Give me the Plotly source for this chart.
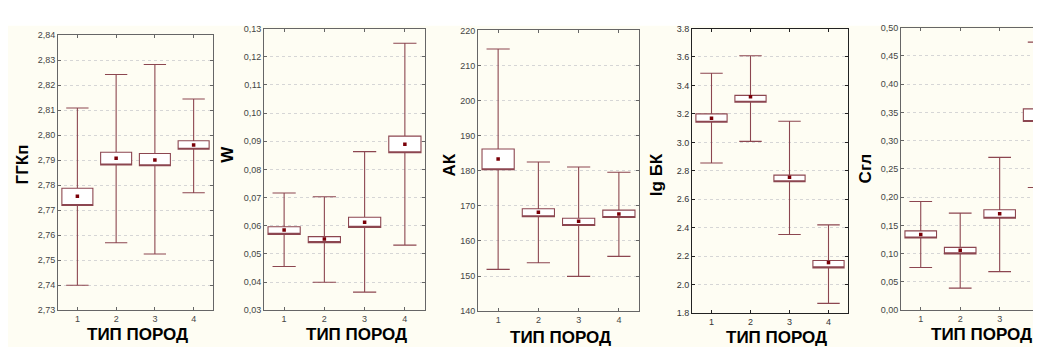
import plotly.graph_objects as go

# ---------------- data ----------------
categories = [1, 2, 3, 4]
x_title = "ТИП ПОРОД"

# Panel 1: ГГКп
ggk_mean = [2.7756, 2.7908, 2.7901, 2.7961]
ggk_box_lo = [2.7719, 2.7881, 2.7878, 2.7944]
ggk_box_hi = [2.7788, 2.7932, 2.7927, 2.7978]
ggk_whisk_lo = [2.7400, 2.7570, 2.7525, 2.7770]
ggk_whisk_hi = [2.8109, 2.8243, 2.8283, 2.8145]
ggk_tickvals = [2.73, 2.74, 2.75, 2.76, 2.77, 2.78, 2.79, 2.80, 2.81, 2.82, 2.83, 2.84]
ggk_ticktext = ["2,73", "2,74", "2,75", "2,76", "2,77", "2,78", "2,79", "2,80", "2,81", "2,82", "2,83", "2,84"]

# Panel 2: W
w_mean = [0.0585, 0.0553, 0.0612, 0.0889]
w_box_lo = [0.0569, 0.0540, 0.0594, 0.0859]
w_box_hi = [0.0596, 0.0561, 0.0630, 0.0918]
w_whisk_lo = [0.0455, 0.0399, 0.0364, 0.0531]
w_whisk_hi = [0.0716, 0.0703, 0.0863, 0.1248]
w_tickvals = [0.03, 0.04, 0.05, 0.06, 0.07, 0.08, 0.09, 0.10, 0.11, 0.12, 0.13]
w_ticktext = ["0,03", "0,04", "0,05", "0,06", "0,07", "0,08", "0,09", "0,10", "0,11", "0,12", "0,13"]

# Panel 3: АК
ak_mean = [183.4, 168.2, 165.6, 167.7]
ak_box_lo = [180.3, 166.9, 164.4, 166.7]
ak_box_hi = [186.2, 169.2, 166.5, 168.8]
ak_whisk_lo = [151.9, 153.8, 149.9, 155.6]
ak_whisk_hi = [214.7, 182.5, 181.1, 179.6]
ak_tickvals = [140, 150, 160, 170, 180, 190, 200, 210, 220]
ak_ticktext = ["140", "150", "160", "170", "180", "190", "200", "210", "220"]

# Panel 4: lg БК
bk_mean = [3.170, 3.320, 2.755, 2.155]
bk_box_lo = [3.141, 3.282, 2.723, 2.118]
bk_box_hi = [3.200, 3.330, 2.770, 2.170]
bk_whisk_lo = [2.855, 3.007, 2.352, 1.868]
bk_whisk_hi = [3.486, 3.609, 3.148, 2.420]
bk_tickvals = [1.8, 2.0, 2.2, 2.4, 2.6, 2.8, 3.0, 3.2, 3.4, 3.6, 3.8]
bk_ticktext = ["1.8", "2.0", "2.2", "2.4", "2.6", "2.8", "3.0", "3.2", "3.4", "3.6", "3.8"]

# Panel 5: Сгл
sgl_mean = [0.134, 0.106, 0.1707, 0.3465]
sgl_box_lo = [0.1277, 0.0997, 0.1626, 0.3339]
sgl_box_hi = [0.1403, 0.1111, 0.1776, 0.3562]
sgl_whisk_lo = [0.0756, 0.0390, 0.0682, 0.2171]
sgl_whisk_hi = [0.1924, 0.1718, 0.2703, 0.4742]
sgl_tickvals = [0.00, 0.05, 0.10, 0.15, 0.20, 0.25, 0.30, 0.35, 0.40, 0.45, 0.50]
sgl_ticktext = ["0,00", "0,05", "0,10", "0,15", "0,20", "0,25", "0,30", "0,35", "0,40", "0,45", "0,50"]

# ---------------- layout / styling ----------------
W, H = 1041, 347
BOX_COLOR = "#8c4650"
MEAN_COLOR = "#7a0008"
FONT = "Liberation Sans, Arial, sans-serif"

panels = [
    dict(name="ГГКп", mean=ggk_mean, lo=ggk_box_lo, hi=ggk_box_hi, wlo=ggk_whisk_lo, whi=ggk_whisk_hi,
         tv=ggk_tickvals, tt=ggk_ticktext, yr=[2.73, 2.84],
         px=(50, 205, 23, 306), xr=[0.5, 4.5], ytx=15, yty=156, xtx=129, xty=331, frame="#666666",
         tickfont=dict(size=9, color="#444444")),
    dict(name="W", mean=w_mean, lo=w_box_lo, hi=w_box_hi, wlo=w_whisk_lo, whi=w_whisk_hi,
         tv=w_tickvals, tt=w_ticktext, yr=[0.03, 0.13],
         px=(256, 417, 16, 306), xr=[0.5, 4.5], ytx=220, yty=146, xtx=348, xty=331, frame="#666666",
         tickfont=dict(size=9, color="#444444")),
    dict(name="АК", mean=ak_mean, lo=ak_box_lo, hi=ak_box_hi, wlo=ak_whisk_lo, whi=ak_whisk_hi,
         tv=ak_tickvals, tt=ak_ticktext, yr=[140, 220],
         px=(470, 631, 18, 307), xr=[0.5, 4.5], ytx=441, yty=157, xtx=552, xty=334, frame="#666666",
         tickfont=dict(size=9, color="#444444")),
    dict(name="lg БК", mean=bk_mean, lo=bk_box_lo, hi=bk_box_hi, wlo=bk_whisk_lo, whi=bk_whisk_hi,
         tv=bk_tickvals, tt=bk_ticktext, yr=[1.8, 3.8],
         px=(684, 840, 16, 309), xr=[0.5, 4.5], ytx=648, yty=167, xtx=768, xty=334, frame="#222222",
         tickfont=dict(size=9, color="#333333")),
    dict(name="Сгл", mean=sgl_mean, lo=sgl_box_lo, hi=sgl_box_hi, wlo=sgl_whisk_lo, whi=sgl_whisk_hi,
         tv=sgl_tickvals, tt=sgl_ticktext, yr=[0.0, 0.5],
         px=(893, 1041, 15, 306), xr=[0.5, 4.25], ytx=857, yty=160, xtx=973, xty=331, frame="#666666",
         tickfont=dict(size=9, color="#444444")),
]

fig = go.Figure()
layout = dict(
    width=W, height=H, autosize=False,
    margin=dict(l=0, r=0, t=0, b=0),
    paper_bgcolor="white", plot_bgcolor="white",
    showlegend=False, hovermode=False,
    font=dict(family=FONT),
)
annotations = []
shapes = [
    dict(type="rect", xref="paper", yref="paper", x0=0, x1=1, y0=0, y1=1 - 13 / H,
         fillcolor="#fefdf3", line=dict(width=0), layer="below"),
]

for i, p in enumerate(panels, start=1):
    xs = "" if i == 1 else str(i)
    xa, ya = "x" + xs, "y" + xs
    left, right, top, bottom = p["px"]

    fig.add_trace(go.Box(
        x=categories, q1=p["lo"], median=p["lo"], q3=p["hi"],
        lowerfence=p["wlo"], upperfence=p["whi"],
        width=0.8, whiskerwidth=0.72, fillcolor="white",
        line=dict(color=BOX_COLOR, width=1.1), boxpoints=False,
        xaxis=xa, yaxis=ya,
    ))
    fig.add_trace(go.Scatter(
        x=categories, y=p["mean"], mode="markers",
        marker=dict(symbol="square", size=3.5, color=MEAN_COLOR),
        xaxis=xa, yaxis=ya,
    ))

    layout["xaxis" + xs] = dict(
        domain=[left / W, right / W], range=p["xr"], anchor=ya,
        tickvals=categories, ticktext=[str(c) for c in categories],
        ticks="inside", ticklen=3, tickcolor=p["frame"],
        showline=True, linecolor=p["frame"], linewidth=1, mirror="ticks",
        showgrid=False, zeroline=False, tickfont=p["tickfont"],
    )
    layout["yaxis" + xs] = dict(
        domain=[1 - bottom / H, 1 - top / H], range=p["yr"], anchor=xa,
        tickvals=p["tv"], ticktext=p["tt"],
        ticks="inside", ticklen=3, tickcolor=p["frame"],
        showline=True, linecolor=p["frame"], linewidth=1,
        mirror=("ticks" if i < 5 else False),
        showgrid=True, gridcolor="#d6d6d6", griddash="dot", gridwidth=1,
        zeroline=False, tickfont=p["tickfont"],
    )
    annotations.append(dict(
        text="<b>" + p["name"] + "</b>", xref="paper", yref="paper",
        x=p["ytx"] / W, y=1 - p["yty"] / H, textangle=-90, showarrow=False,
        font=dict(size=17, color="black", family=FONT), xanchor="center", yanchor="middle",
    ))
    annotations.append(dict(
        text="<b>" + x_title + "</b>", xref="paper", yref="paper",
        x=p["xtx"] / W, y=1 - p["xty"] / H, showarrow=False,
        font=dict(size=17, color="black", family=FONT), xanchor="center", yanchor="middle",
    ))

layout["annotations"] = annotations
layout["shapes"] = shapes
fig.update_layout(**layout)
fig.write_html("out.html")
